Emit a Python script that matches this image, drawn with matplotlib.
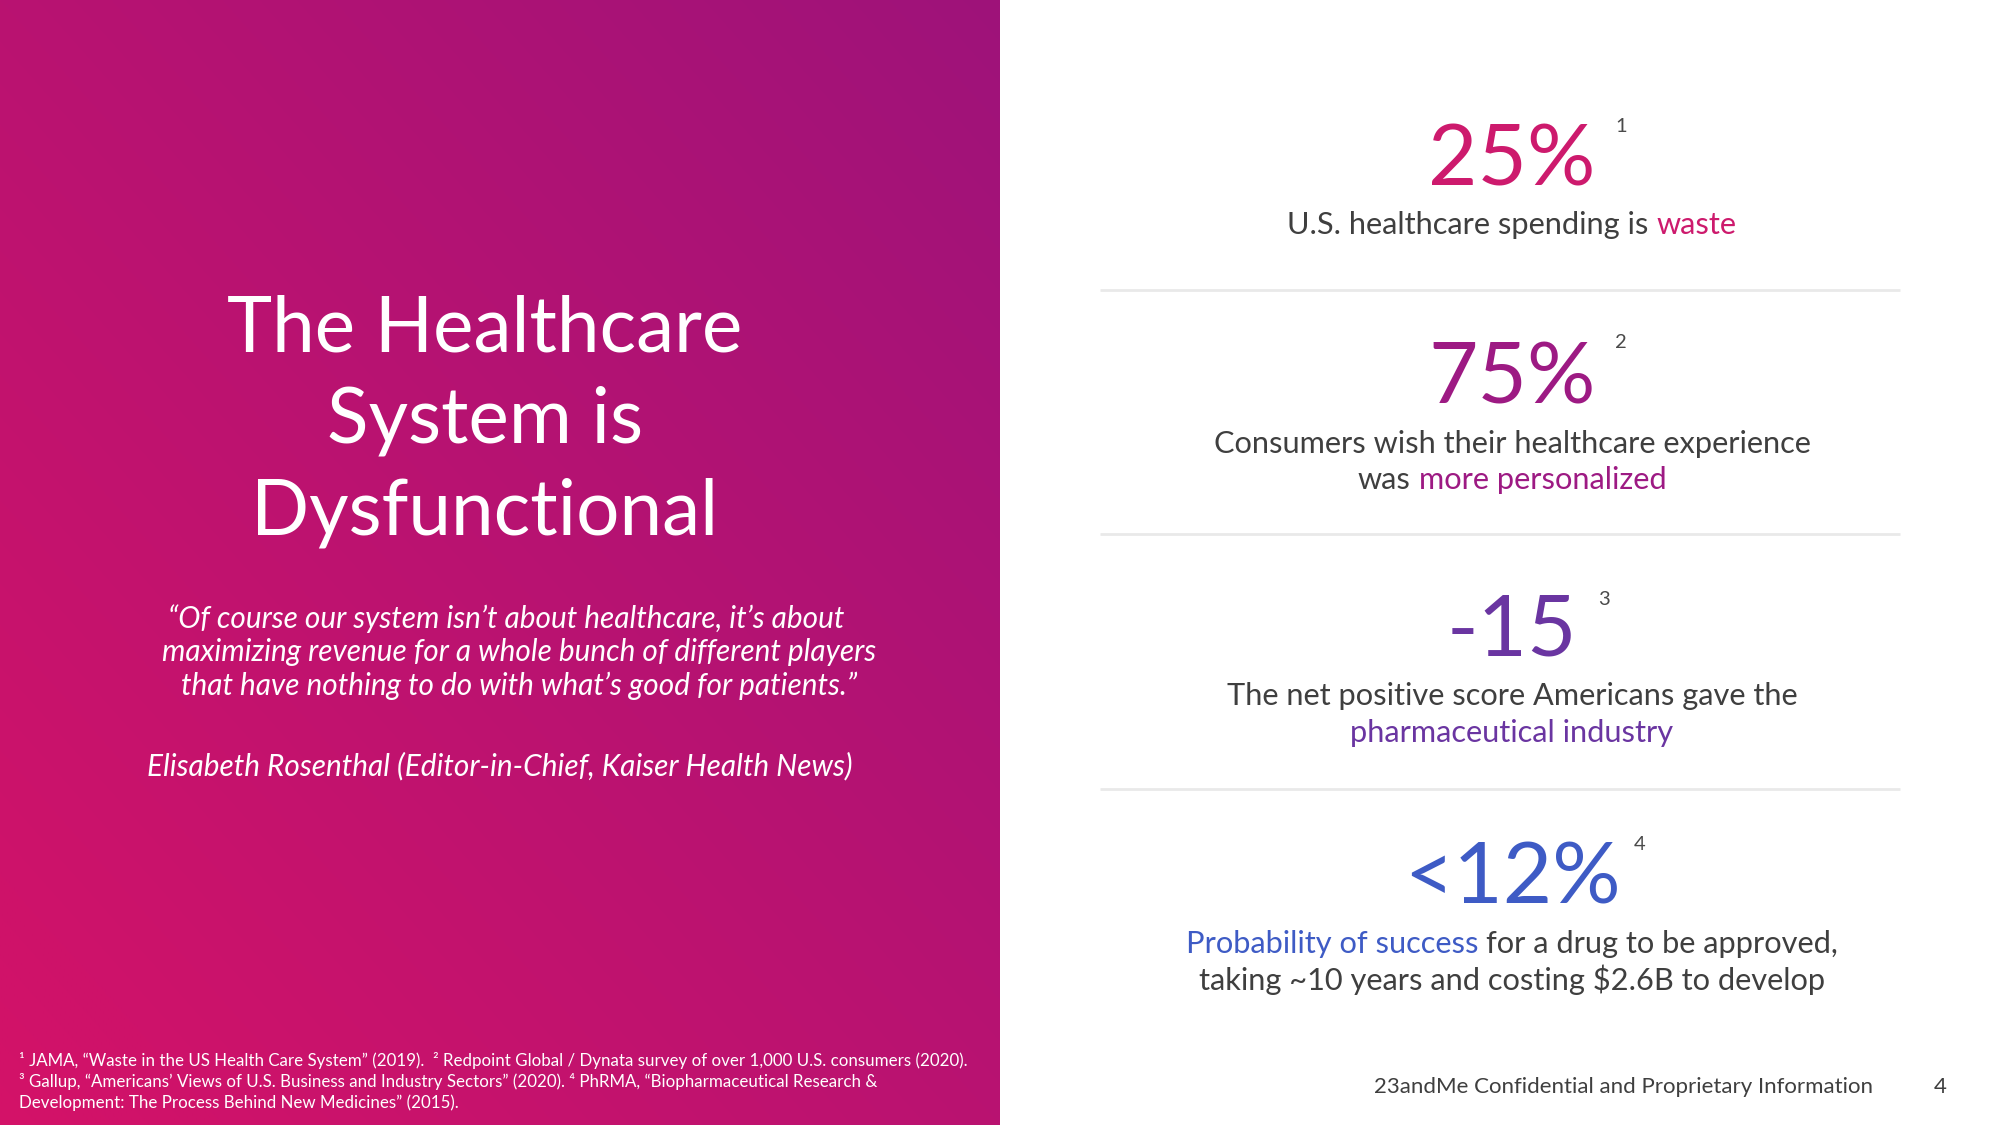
import numpy as np
import matplotlib
matplotlib.use('Agg')
import matplotlib.pyplot as plt

plt.rcParams['font.family'] = ['Lato', 'DejaVu Sans']

# ---- slide content ----
title_lines = ['The Healthcare', 'System is', 'Dysfunctional']
quote_lines = [
    '\u201cOf course our system isn\u2019t about healthcare, it\u2019s about',
    'maximizing revenue for a whole bunch of different players',
    'that have nothing to do with what\u2019s good for patients.\u201d',
]
quote_author = 'Elisabeth Rosenthal (Editor-in-Chief, Kaiser Health News)'
footnotes = [
    '\u00b9 JAMA, \u201cWaste in the US Health Care System\u201d (2019).  \u00b2 Redpoint Global / Dynata survey of over 1,000 U.S. consumers (2020).',
    '\u00b3 Gallup, \u201cAmericans\u2019 Views of U.S. Business and Industry Sectors\u201d (2020). \u2074 PhRMA, \u201cBiopharmaceutical Research &',
    'Development: The Process Behind New Medicines\u201d (2015).',
]

stat_values = ['25%', '75%', '-15', '<12%']
stat_refs = ['1', '2', '3', '4']
stat_colors = ['#CD1A6D', '#9D1A83', '#6A35A1', '#3E5BC5']
# each caption: list of lines, each line: list of (text, highlighted)
stat_captions = [
    [[('U.S. healthcare spending is', False), ('waste', True)]],
    [[('Consumers wish their healthcare experience', False)],
     [('was', False), ('more personalized', True)]],
    [[('The net positive score Americans gave the', False)],
     [('pharmaceutical industry', True)]],
    [[('Probability of success', True), ('for a drug to be approved,', False)],
     [('taking ~10 years and costing $2.6B to develop', False)]],
]
footer_text = '23andMe Confidential and Proprietary Information'
page_number = '4'

# ---- layout (pixels, y downwards) ----
W, H = 2000, 1125
PANEL_W = 1000
GRAY = '#3F3F3F'
grad_start = np.array([212, 18, 104]) / 255   # bottom-left
grad_end = np.array([158, 18, 122]) / 255     # top-right

stat_x = 1512
stat_base = [185, 403, 655, 903]
ref_pos = [(1621, 118), (1621, 334), (1604, 591), (1640, 836)]
caption_base = [[234], [453, 489], [705, 742], [953, 990]]
sep_y = [290, 534, 789]

fig = plt.figure(figsize=(20, 11.25), dpi=100)
ax = fig.add_axes([0, 0, 1, 1])
renderer = fig.canvas.get_renderer()

# gradient panel
yy, xx = np.mgrid[0:H, 0:PANEL_W]
t = (xx / PANEL_W + (1 - yy / H)) / 2
img = grad_start[None, None, :] * (1 - t[..., None]) + grad_end[None, None, :] * t[..., None]
ax.imshow(img, extent=(0, PANEL_W, H, 0), aspect='auto', interpolation='bilinear')
ax.set_xlim(0, W)
ax.set_ylim(H, 0)
ax.axis('off')


def text_width(s, size, style='normal'):
    tx = ax.text(0, 0, s, fontsize=size, style=style, parse_math=False)
    w = tx.get_window_extent(renderer).width
    tx.remove()
    return w


def fit_size(s, target, style='normal'):
    return 10 * target / text_width(s, 10, style)


def draw_mixed(segments, xc, y, size, hl_color):
    gap = text_width('n n', size) - text_width('nn', size)
    widths = [text_width(s, size) for s, _ in segments]
    x = xc - (sum(widths) + gap * (len(segments) - 1)) / 2
    for (s, hl), w in zip(segments, widths):
        ax.text(x, y, s, color=hl_color if hl else GRAY, fontsize=size,
                ha='left', va='baseline', parse_math=False)
        x += w + gap


# ---- left panel ----
title_size = fit_size(title_lines[0], 516)
for line, y in zip(title_lines, [352, 443, 534]):
    ax.text(485, y, line, color='white', fontsize=title_size, ha='center', va='baseline')

quote_size = fit_size(quote_lines[1], 715, 'italic')
for line, x, y in zip(quote_lines, [506, 519, 519], [628, 661, 695]):
    ax.text(x, y, line, color='white', fontsize=quote_size, style='italic',
            ha='center', va='baseline')
ax.text(500, 775, quote_author, color='white', fontsize=quote_size, style='italic',
        ha='center', va='baseline')

foot_size = fit_size(footnotes[0], 945)
for line, y in zip(footnotes, [1066, 1087, 1108]):
    ax.text(19, y, line, color='white', fontsize=foot_size, ha='left', va='baseline',
            parse_math=False)

# ---- right panel ----
num_size = fit_size(stat_values[0], 168)
cap_size = fit_size(stat_captions[1][0][0][0], 598)
for i, val in enumerate(stat_values):
    ax.text(stat_x, stat_base[i], val, color=stat_colors[i], fontsize=num_size,
            ha='center', va='baseline')
    rx, ry = ref_pos[i]
    ax.text(rx, ry, stat_refs[i], color='#4A4A4A', fontsize=14.5, ha='center', va='top')
    for segs, y in zip(stat_captions[i], caption_base[i]):
        draw_mixed(segs, stat_x, y, cap_size, stat_colors[i])

for y in sep_y:
    ax.plot([1100, 1900], [y, y], color='#E9E9E9', lw=2, solid_capstyle='butt')

footer_size = fit_size(footer_text, 498)
ax.text(1374, 1093, footer_text, color=GRAY, fontsize=footer_size, ha='left', va='baseline')
ax.text(1940, 1093, page_number, color=GRAY, fontsize=footer_size, ha='center', va='baseline')

fig.savefig('out.png', dpi=100)
